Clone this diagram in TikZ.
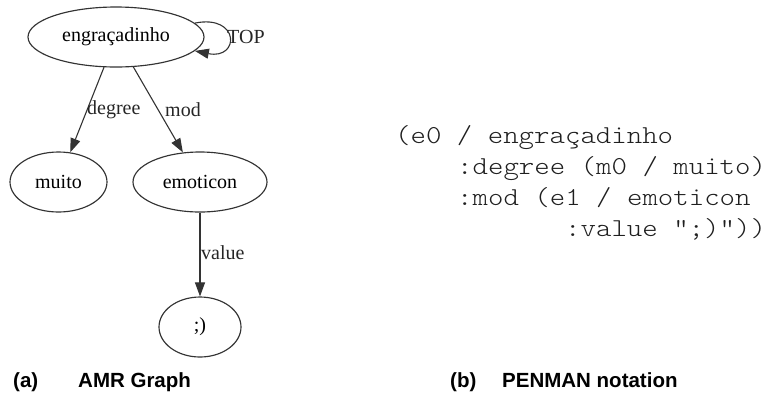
\documentclass[tikz,border=0pt]{standalone}
\usepackage{fontspec}
\setmainfont{Liberation Serif}
\newfontfamily\penfont[FakeStretch=1.14]{Latin Modern Mono Light}
\newfontfamily\capfont{Liberation Sans}
\usetikzlibrary{arrows.meta,shapes.geometric}
\begin{document}
\begin{tikzpicture}[x=1pt,y=-1pt,
  concept/.style={draw=black!80, line width=1.15pt, ellipse, inner sep=0pt,
    font=\fontsize{20}{24}\selectfont},
  rel/.style={draw=black!80, line width=1.1pt,
    -{Triangle[length=14pt,width=10pt]}},
  rellabel/.style={font=\fontsize{20}{24}\selectfont, inner sep=0pt,
    anchor=west, text=black!85},
  penman/.style={font=\penfont\fontsize{25.8}{30}\selectfont, inner sep=0pt,
    anchor=base west, text=black!88},
  caption/.style={font=\capfont\bfseries\fontsize{20.5}{24}\selectfont,
    inner sep=0pt, anchor=base west}]
\useasboundingbox (0,0) rectangle (767,392);

% (a) AMR graph
\node[concept, minimum width=176pt, minimum height=60pt] (e0) at (116,37) {engraçadinho};
\node[concept, minimum width=97pt, minimum height=60pt] (m0) at (58.5,182) {muito};
\node[concept, minimum width=134pt, minimum height=60pt] (e1) at (200,182) {emoticon};
\node[concept, minimum width=82pt, minimum height=60pt] (v0) at (200,327) {;)};

\draw[rel] (e0) -- (m0);
\draw[rel] (e0) -- (e1);
\draw[rel] (e1) -- (v0);
\draw[rel] (e0.10) .. controls (240,14) and (240,60) .. (e0.-10);

\node[rellabel] (ldeg) at (87,110) {degree};
\node[rellabel] (lmod) at (165,110) {mod};
\node[rellabel] (lval) at (201,253) {value};
\node[rellabel] (ltop) at (227,37) {TOP};

% (b) PENMAN notation, one node per line, columns 0, 4, 4 and 11
\node[penman] (p1) at (395,143) {(e0 / engraçadinho};
\node[penman] (p2) at (457,174) {:degree (m0 / muito)};
\node[penman] (p3) at (457,205) {:mod (e1 / emoticon};
\node[penman] (p4) at (565,236) {:value ";)"))};

% captions
\node[caption] (ca) at (13,387) {(a)};
\node[caption] (cat) at (78,387) {AMR Graph};
\node[caption] (cb) at (450,387) {(b)};
\node[caption] (cbt) at (502,387) {PENMAN notation};
\end{tikzpicture}
\end{document}
